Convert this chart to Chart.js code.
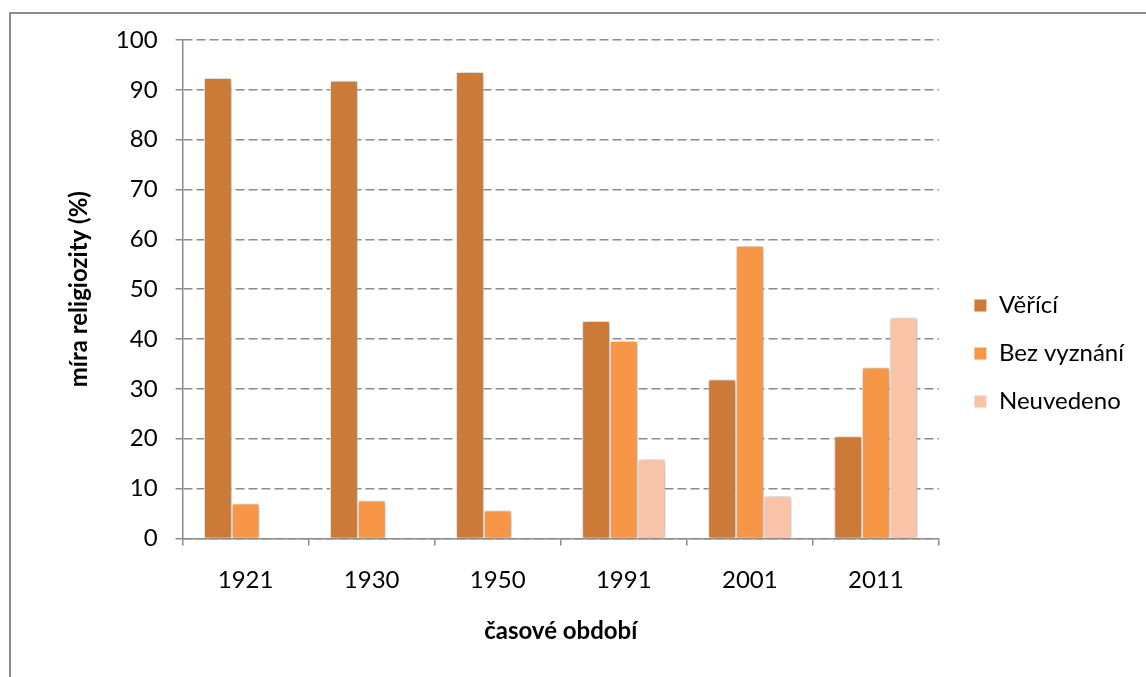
<!DOCTYPE html>
<html lang="cs">
<head>
  <meta charset="UTF-8">
  <title>Míra religiozity</title>
  <script src="https://cdn.jsdelivr.net/npm/chart.js"></script>
  <style>
    body { margin: 0; background: #fff; overflow: hidden; }
    .frame {
      position: absolute; left: 9px; top: 12px;
      width: 1300px; height: 800px;
      border: 2px solid #8c8c8c;
    }
    #chart { position: absolute; left: 0; top: 0; }
  </style>
</head>
<body>
  <div class="frame"></div>
  <canvas id="chart" width="1146" height="677"></canvas>

  <script>
    const years      = ['1921', '1930', '1950', '1991', '2001', '2011'];
    const verici     = [92.4, 91.8, 93.6, 43.6, 31.9, 20.5];
    const bezVyznani = [7.0, 7.6, 5.6, 39.6, 58.7, 34.3];
    const neuvedeno  = [null, null, null, 15.9, 8.5, 44.3];

    const FONT = 'Lato, "Liberation Sans", sans-serif';

    // soft shadow under the bars, like the Excel original
    const barShadow = {
      id: 'barShadow',
      beforeDatasetsDraw(chart) {
        const c = chart.ctx;
        c.save();
        c.shadowColor = 'rgba(0,0,0,0.4)';
        c.shadowBlur = 6;
        c.shadowOffsetX = 1;
        c.shadowOffsetY = 1;
      },
      afterDatasetsDraw(chart) { chart.ctx.restore(); }
    };

    const bar = (label, data, color) => ({
      label, data,
      backgroundColor: color,
      borderColor: '#ffffff',
      borderWidth: 1,
      categoryPercentage: 0.66,
      barPercentage: 1.0
    });

    new Chart(document.getElementById('chart'), {
      type: 'bar',
      data: {
        labels: years,
        datasets: [
          bar('Věřící', verici, '#cc7a38'),
          bar('Bez vyznání', bezVyznani, '#f79646'),
          bar('Neuvedeno', neuvedeno, '#f9c3a7')
        ]
      },
      options: {
        responsive: false,
        animation: false,
        layout: { padding: { left: 0, right: 12, top: 40, bottom: 10 } },
        plugins: {
          tooltip: { enabled: false },
          legend: {
            position: 'right',
            labels: {
              color: '#000',
              font: { family: FONT, size: 24 },
              boxWidth: 13, boxHeight: 13,
              padding: 24
            }
          }
        },
        scales: {
          x: {
            grid: { offset: true, drawOnChartArea: false, drawTicks: true, tickLength: 7, color: '#8c8c8c', lineWidth: 1.5 },
            border: { color: '#8c8c8c', width: 1.5 },
            ticks: { color: '#000', font: { family: FONT, size: 24 }, padding: 20 },
            title: {
              display: true, text: 'časové období', color: '#000',
              font: { family: FONT, size: 24, weight: 'bold' },
              padding: { top: 3, bottom: 21 }
            }
          },
          y: {
            min: 0, max: 100,
            grid: { color: '#8c8c8c', lineWidth: 1.5, tickLength: 7, tickBorderDash: [], tickColor: '#8c8c8c' },
            border: { color: '#8c8c8c', width: 1.5, dash: [9, 4] },
            ticks: { stepSize: 10, color: '#000', font: { family: FONT, size: 24 }, padding: 18 },
            title: {
              display: true, text: 'míra religiozity (%)', color: '#000',
              font: { family: FONT, size: 24, weight: 'bold' },
              padding: { top: 65, bottom: 4 }
            }
          },
          // empty spacer between the plot and the legend
          gap: {
            type: 'linear', position: 'right', display: true,
            grid: { display: false }, border: { display: false },
            ticks: { display: false },
            afterFit(scale) { scale.width = 11; }
          }
        }
      },
      plugins: [barShadow]
    });
  </script>
</body>
</html>
